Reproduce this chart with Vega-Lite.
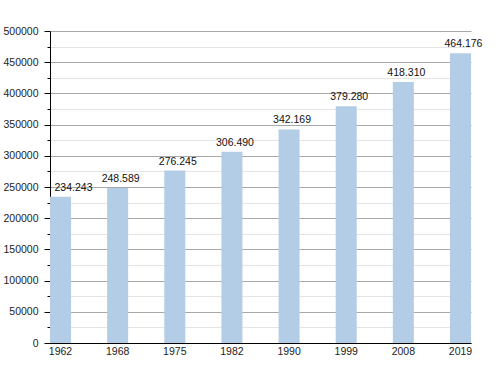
{
  "$schema": "https://vega.github.io/schema/vega-lite/v6.json",
  "width": 421,
  "height": 312,
  "autosize": {"type": "none"},
  "padding": {"left": 50, "top": 31, "right": 29, "bottom": 30},
  "background": "white",
  "config": {
    "locale": {"number": {"decimal": ",", "thousands": ".", "grouping": [3], "currency": ["", "€"]}},
    "view": {"stroke": null},
    "font": "Liberation Sans"
  },
  "data": {
    "values": [
      {"year": "1962", "population": 234243},
      {"year": "1968", "population": 248589},
      {"year": "1975", "population": 276245},
      {"year": "1982", "population": 306490},
      {"year": "1990", "population": 342169},
      {"year": "1999", "population": 379280},
      {"year": "2008", "population": 418310},
      {"year": "2019", "population": 464176}
    ]
  },
  "encoding": {
    "x": {
      "field": "year",
      "type": "ordinal",
      "sort": null,
      "scale": {"paddingInner": 0.632, "paddingOuter": 0},
      "axis": {
        "title": null,
        "labelAngle": 0,
        "ticks": false,
        "domainColor": "#000000",
        "domainWidth": 1,
        "labelFont": "Liberation Sans",
        "labelFontSize": 10.5,
        "labelColor": "#222222",
        "labelPadding": 3
      }
    },
    "y": {
      "field": "population",
      "type": "quantitative",
      "scale": {"domain": [0, 500000], "nice": false},
      "axis": {
        "title": null,
        "values": [0, 25000, 50000, 75000, 100000, 125000, 150000, 175000, 200000, 225000, 250000, 275000, 300000, 325000, 350000, 375000, 400000, 425000, 450000, 475000, 500000],
        "labelExpr": "datum.value % 50000 === 0 ? format(datum.value, 'd') : ''",
        "grid": true,
        "gridColor": {"condition": {"test": "datum.value % 50000 === 0", "value": "#a8a8a8"}, "value": "#e4e4e4"},
        "gridWidth": 1,
        "tickColor": "#000000",
        "tickSize": {"condition": {"test": "datum.value % 50000 === 0", "value": 6}, "value": 3},
        "domainColor": "#000000",
        "domainWidth": 1,
        "labelFont": "Liberation Sans",
        "labelFontSize": 10.5,
        "labelColor": "#222222",
        "labelPadding": 6
      }
    }
  },
  "layer": [
    {
      "mark": {"type": "bar", "color": "#b4cde6"}
    },
    {
      "transform": [{"filter": "datum.year !== '1962'"}],
      "mark": {"type": "text", "baseline": "alphabetic", "dy": -6, "dx": 3, "font": "Liberation Sans", "fontSize": 10.5, "color": "#111111"},
      "encoding": {
        "text": {"field": "population", "type": "quantitative", "format": ",d"}
      }
    },
    {
      "transform": [{"filter": "datum.year === '1962'"}],
      "mark": {"type": "text", "baseline": "alphabetic", "dy": -6, "dx": 13, "font": "Liberation Sans", "fontSize": 10.5, "color": "#111111"},
      "encoding": {
        "text": {"field": "population", "type": "quantitative", "format": ",d"}
      }
    }
  ]
}
